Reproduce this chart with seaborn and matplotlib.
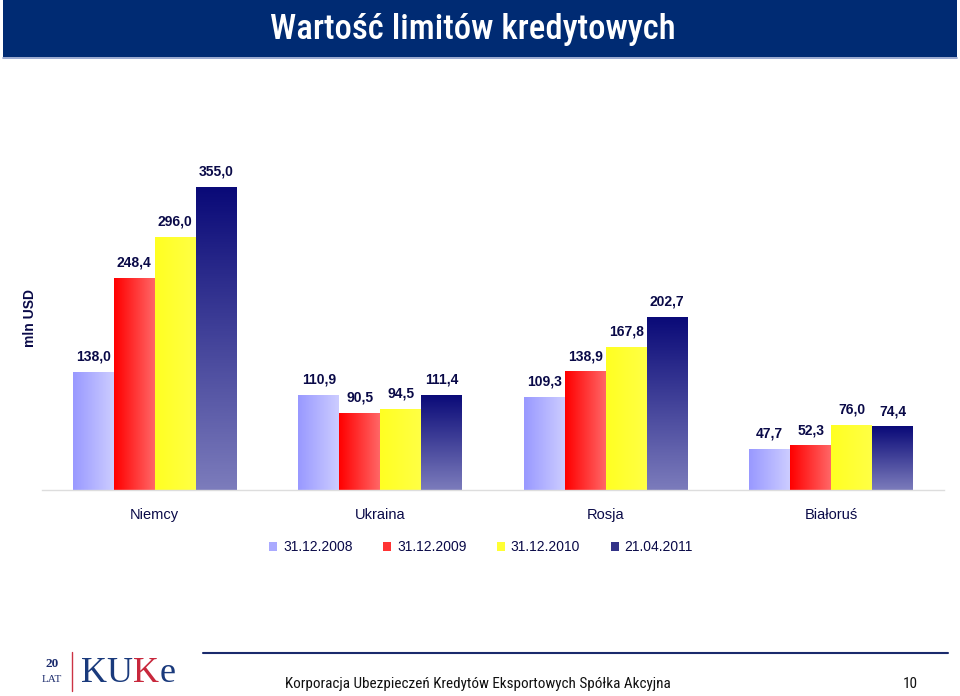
import numpy as np
import pandas as pd
import matplotlib
matplotlib.use("Agg")
import matplotlib.pyplot as plt
import seaborn as sns
from matplotlib.colors import LinearSegmentedColormap
from matplotlib.lines import Line2D
from matplotlib.patches import Rectangle

countries = ["Niemcy", "Ukraina", "Rosja", "Białoruś"]
dates = ["31.12.2008", "31.12.2009", "31.12.2010", "21.04.2011"]
v2008 = [138.0, 110.9, 109.3, 47.7]
v2009 = [248.4, 90.5, 138.9, 52.3]
v2010 = [296.0, 94.5, 167.8, 76.0]
v2011 = [355.0, 111.4, 202.7, 74.4]

series = [v2008, v2009, v2010, v2011]
rows = []
for d, vals in zip(dates, series):
    for c, v in zip(countries, vals):
        rows.append({"kraj": c, "data": d, "wartosc": v})
df = pd.DataFrame(rows)

solid = ["#aaaaff", "#ff3333", "#ffff33", "#333388"]
grads = [("h", "#9999ff", "#ccccff"),
         ("h", "#ff0000", "#ff6666"),
         ("h", "#ffff22", "#ffff44"),
         ("v", "#0a0a78", "#7b7bbb")]

sns.set_theme(style="white")
plt.rcParams["font.family"] = ["Liberation Sans", "DejaVu Sans"]
NARROW = ["Roboto Condensed", "PT Sans Narrow", "Liberation Sans"]
TXT = "#0a0a48"

fig = plt.figure(figsize=(9.6, 6.96), dpi=100)
W, H = 960, 696

def fx(x):
    return x / W

def fy(y):
    return 1 - y / H

# Title bar
fig.patches.append(Rectangle((fx(3), fy(57)), fx(954), 57 / H, transform=fig.transFigure,
                             facecolor="#002b73", edgecolor="none", zorder=0))
fig.lines.append(Line2D([fx(3), fx(957)], [fy(58), fy(58)], transform=fig.transFigure,
                        color="#8a9cc8", lw=1.2))
fig.text(fx(473), fy(29), "Wartość limitów kredytowych", ha="center", va="center",
         color="white", fontsize=25, fontweight="medium", family=NARROW)

# Axes: left 42, right 944, baseline y=490, top at value 400
top_px = 490 - 400 * 0.854
ax = fig.add_axes([fx(42), fy(490), fx(944 - 42), (490 - top_px) / H])

sns.barplot(data=df, x="kraj", y="wartosc", hue="data", hue_order=dates, order=countries,
            palette=solid, width=0.727, ax=ax, saturation=1, legend=True, edgecolor="none")

for i, cont in enumerate(ax.containers):
    kind, c0, c1 = grads[i]
    cmap = LinearSegmentedColormap.from_list(f"g{i}", [c0, c1])
    for bar in cont:
        x0, y0 = bar.get_x(), bar.get_y()
        w, h = bar.get_width(), bar.get_height()
        if kind == "h":
            img = np.linspace(0, 1, 64).reshape(1, -1)
        else:
            img = np.linspace(1, 0, 64).reshape(-1, 1)
        im = ax.imshow(img, cmap=cmap, aspect="auto", extent=(x0, x0 + w, y0, y0 + h),
                       origin="lower", zorder=2, interpolation="bilinear")
        im.set_clip_path(bar)
        bar.set_facecolor("none")
    labels = [f"{v:.1f}".replace(".", ",") for v in cont.datavalues]
    ax.bar_label(cont, labels=labels, padding=6, fontsize=10, color=TXT, fontweight="bold")

ax.set_xlim(-0.5, 3.5)
ax.set_ylim(0, 400)
ax.set_yticks([])
ax.set_xlabel("")
ax.set_ylabel("")
for s in ["top", "left", "right"]:
    ax.spines[s].set_visible(False)
ax.spines["bottom"].set_color("#dddddd")
ax.spines["bottom"].set_linewidth(1)
ax.tick_params(axis="x", length=0, pad=13, labelsize=10.5, labelcolor=TXT)

fig.text(fx(30), fy(318), "mln USD", rotation=90, ha="center", va="center",
         fontsize=10, fontweight="bold", color=TXT)

leg = ax.legend(loc="center", bbox_to_anchor=(fx(481), fy(547)), bbox_transform=fig.transFigure,
                ncol=4, frameon=False, fontsize=10, handlelength=0.6, handleheight=0.6,
                handletextpad=0.4, columnspacing=2.2)
for t in leg.get_texts():
    t.set_color(TXT)

# Footer
fig.lines.append(Line2D([fx(203), fx(948)], [fy(653), fy(653)], transform=fig.transFigure,
                        color="#1a2a6c", lw=1.5))
fig.text(fx(285), fy(684), "Korporacja Ubezpieczeń Kredytów Eksportowych Spółka Akcyjna",
         ha="left", va="center", fontsize=10.9, color="#111111", family=NARROW)
fig.text(fx(910), fy(684), "10", ha="center", va="center", fontsize=11, color="#111111",
         family=NARROW)

# Logo
fig.text(fx(52), fy(664), "20", ha="center", va="center", fontsize=9.5, color="#1a2a6c",
         family=["Liberation Serif"], fontweight="bold")
fig.text(fx(52), fy(680), "LAT", ha="center", va="center", fontsize=8, color="#1a2a6c",
         family=["Liberation Serif"])
fig.lines.append(Line2D([fx(72), fx(72)], [fy(652), fy(691)], transform=fig.transFigure,
                        color="#cc3344", lw=1))
renderer = fig.canvas.get_renderer()
xcur = 81
parts = [("KU", "#1a3a7c"), ("K", "#c8283c"), ("e", "#1a3a7c")]
for s, col in parts:
    t = fig.text(fx(xcur), fy(673), s, ha="left", va="center", fontsize=26, color=col,
                 family=["Liberation Serif"])
    bb = t.get_window_extent(renderer=renderer)
    xcur += bb.width + 0.5

fig.savefig("out.png", dpi=100)
